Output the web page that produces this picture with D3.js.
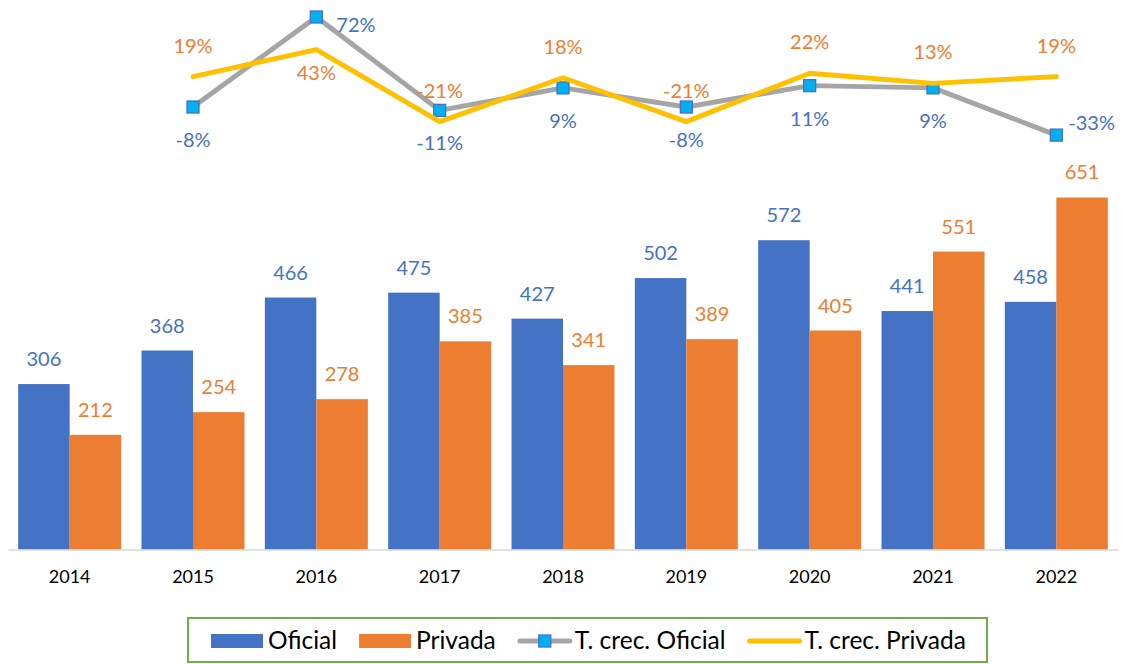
<!DOCTYPE html>
<html>
<head>
<meta charset="utf-8">
<script src="https://cdn.jsdelivr.net/npm/d3@7"></script>
<style>
  html, body { margin: 0; padding: 0; background: #fff; }
  svg { display: block; font-family: Lato, "Open Sans", sans-serif; }
</style>
</head>
<body>
<svg class="chart" width="1122" height="664"></svg>
<script>
const years = ["2014", "2015", "2016", "2017", "2018", "2019", "2020", "2021", "2022"];
const oficial = [306, 368, 466, 475, 427, 502, 572, 441, 458];
const privada = [212, 254, 278, 385, 341, 389, 405, 551, 651];
// growth rates start in 2015
const crecYears = years.slice(1);
const crecOficial = [-0.08, 0.72, -0.11, 0.09, -0.08, 0.11, 0.09, -0.33];
const crecPrivada = [0.19, 0.43, -0.21, 0.18, -0.21, 0.22, 0.13, 0.19];

const BLUE = "#4472c4";
const ORANGE = "#ed7d31";
const GREY = "#a5a5a5";
const YELLOW = "#ffc000";
const MARKER = "#00b0f0";

const $svg = d3.select(".chart");

const x = d3.scaleBand().domain(years).range([8, 1118]).paddingInner(0.165).paddingOuter(0.0825);
const y = d3.scaleLinear().domain([0, 700]).range([549.5, 171]);
const yPct = d3.scaleLinear().domain([-0.4, 0.8]).range([143, 8]);
const half = x.bandwidth() / 2;

const bars = years.map((yr, i) => ({ year: yr, oficial: oficial[i], privada: privada[i] }));

// bars
const $bars = $svg.append("g");
const series = [
  { key: "oficial", color: BLUE, off: 0 },
  { key: "privada", color: ORANGE, off: half },
];
series.forEach((s) => {
  $bars.selectAll(".bar-" + s.key)
    .data(bars)
    .enter()
    .append("rect")
    .attr("x", (d) => x(d.year) + s.off)
    .attr("width", half)
    .attr("y", (d) => y(d[s.key]))
    .attr("height", (d) => y(0) - y(d[s.key]))
    .attr("fill", s.color);

  $bars.selectAll(".lbl-" + s.key)
    .data(bars)
    .enter()
    .append("text")
    .attr("x", (d) => x(d.year) + s.off + half / 2)
    .attr("y", (d) => y(d[s.key]) - 18)
    .attr("text-anchor", "middle")
    .attr("font-size", 20)
    .attr("fill", s.color)
    .text((d) => d[s.key]);
});

// x axis
const xAxis = d3.axisBottom(x).tickSize(0).tickPadding(21);
const $ax = $svg.append("g").attr("transform", `translate(0, ${y(0)})`).call(xAxis);
$ax.select(".domain").attr("stroke", "#d9d9d9").attr("stroke-width", 1.5);
$ax.selectAll("text").attr("font-size", 18).attr("fill", "#000").attr("font-family", "Lato, sans-serif");

// growth lines
const cx = (yr) => x(yr) + x.bandwidth() / 2;
const ofData = crecYears.map((yr, i) => ({ year: yr, v: crecOficial[i] }));
const prData = crecYears.map((yr, i) => ({ year: yr, v: crecPrivada[i] }));
const line = d3.line().x((d) => cx(d.year)).y((d) => yPct(d.v));

$svg.append("path")
  .datum(ofData)
  .attr("d", line)
  .attr("fill", "none")
  .attr("stroke", GREY)
  .attr("stroke-width", 5)
  .attr("stroke-linejoin", "round")
  .attr("stroke-linecap", "round");

$svg.selectAll(".mk")
  .data(ofData)
  .enter()
  .append("rect")
  .attr("x", (d) => cx(d.year) - 6)
  .attr("y", (d) => yPct(d.v) - 6)
  .attr("width", 12)
  .attr("height", 12)
  .attr("fill", MARKER)
  .attr("stroke", BLUE)
  .attr("stroke-width", 1.3);

$svg.append("path")
  .datum(prData)
  .attr("d", line)
  .attr("fill", "none")
  .attr("stroke", YELLOW)
  .attr("stroke-width", 5)
  .attr("stroke-linejoin", "round")
  .attr("stroke-linecap", "round");

// plain hyphen for negatives, like the original
const pct = (v) => d3.format(".0%")(v).replace("\u2212", "-");
const ofMax = d3.max(crecOficial), ofMin = d3.min(crecOficial);
const prMax = d3.max(crecPrivada);

// oficial labels: below, extremes to the right
$svg.selectAll(".lbl-of")
  .data(ofData)
  .enter()
  .append("text")
  .attr("x", (d) => cx(d.year) + (d.v === ofMax ? 20 : d.v === ofMin ? 12 : 0))
  .attr("y", (d) => yPct(d.v) + (d.v === ofMax ? 15 : d.v === ofMin ? -5 : 40))
  .attr("text-anchor", (d) => (d.v === ofMax || d.v === ofMin ? "start" : "middle"))
  .attr("font-size", 20)
  .attr("fill", BLUE)
  .text((d) => pct(d.v));

// privada labels: above, peak below
$svg.selectAll(".lbl-pr")
  .data(prData)
  .enter()
  .append("text")
  .attr("x", (d) => cx(d.year))
  .attr("y", (d) => yPct(d.v) + (d.v === prMax ? 30 : -24))
  .attr("text-anchor", "middle")
  .attr("font-size", 20)
  .attr("fill", ORANGE)
  .text((d) => pct(d.v));

// legend
const $lg = $svg.append("g");
$lg.append("rect")
  .attr("x", 188).attr("y", 618).attr("width", 799).attr("height", 44)
  .attr("fill", "#fff").attr("stroke", "#70ad47").attr("stroke-width", 2);

const legendItems = [
  { label: "Oficial", type: "box", color: BLUE },
  { label: "Privada", type: "box", color: ORANGE },
  { label: "T. crec. Oficial", type: "marker", color: GREY },
  { label: "T. crec. Privada", type: "line", color: YELLOW },
];
let lx = 211;
legendItems.forEach((it) => {
  if (it.type === "box") {
    $lg.append("rect").attr("x", lx).attr("y", 634).attr("width", 52).attr("height", 14).attr("fill", it.color);
  } else {
    $lg.append("line").attr("x1", lx + 2).attr("x2", lx + 52).attr("y1", 641).attr("y2", 641)
      .attr("stroke", it.color).attr("stroke-width", 5).attr("stroke-linecap", "round");
    if (it.type === "marker") {
      $lg.append("rect").attr("x", lx + 21).attr("y", 635).attr("width", 12).attr("height", 12)
        .attr("fill", MARKER).attr("stroke", BLUE).attr("stroke-width", 1.3);
    }
  }
  const t = $lg.append("text").attr("x", lx + 57).attr("y", 649)
    .attr("font-size", 24.5).attr("fill", "#000").text(it.label);
  lx += 57 + t.node().getComputedTextLength() + 22;
});
</script>
</body>
</html>
